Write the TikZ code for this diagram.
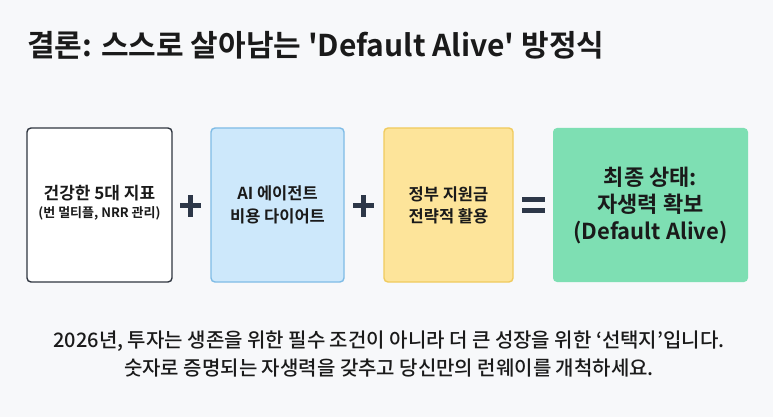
\documentclass[tikz,border=0pt]{standalone}
\usepackage{fontspec}
\setmainfont{Noto Sans CJK KR}[BoldFont={* Bold}]
\newfontfamily\krbold{Noto Sans CJK KR Bold}
\newfontfamily\krmed{Noto Sans CJK KR Medium}
\definecolor{bgc}{HTML}{F7F8FA}
\definecolor{ink}{HTML}{1A1A1A}
\definecolor{opc}{HTML}{2D3748}
\definecolor{b1line}{HTML}{2F3640}
\definecolor{b2fill}{HTML}{CDE8FB}
\definecolor{b2line}{HTML}{7FBCE6}
\definecolor{b3fill}{HTML}{FDE49A}
\definecolor{b3line}{HTML}{F0CB5E}
\definecolor{b4fill}{HTML}{7EDFB3}
\tikzset{
  card/.style={rounded corners=4pt, line width=1.4pt},
  label/.style={align=center, text=ink, inner sep=0pt},
}
\begin{document}
\begin{tikzpicture}[x=1pt,y=-1pt]
\fill[bgc] (0,0) rectangle (773,417);
\useasboundingbox (0,0) rectangle (773,417);
\node[anchor=base west, inner sep=0pt, text=ink, font=\krbold\fontsize{30}{34}\selectfont] (title) at (27,57) {결론: 스스로 살아남는 'Default Alive' 방정식};
% boxes
\draw[card, draw=b1line, fill=white] (27,128) rectangle (172,282);
\node[label, font=\krbold\fontsize{17}{21}\selectfont] (t1) at (99.5,203) {건강한 5대 지표\\[-3pt]{\fontsize{13}{15}\selectfont (번 멀티플, NRR 관리)}};
\draw[card, draw=b2line, fill=b2fill] (211,128) rectangle (344,282);
\node[label, font=\krbold\fontsize{16.5}{23}\selectfont] (t2) at (277.5,205) {AI 에이전트\\비용 다이어트};
\draw[card, draw=b3line, fill=b3fill] (384,128) rectangle (513,282);
\node[label, font=\krbold\fontsize{16.5}{22}\selectfont] (t3) at (448.5,205) {정부 지원금\\전략적 활용};
\fill[b4fill, rounded corners=4pt] (553,128) rectangle (748,282);
\node[label, font=\krbold\fontsize{22}{27}\selectfont] (t4) at (650.5,205) {최종 상태:\\자생력 확보\\(Default Alive)};
% operators
\fill[opc] (180,203) rectangle (201,208);
\fill[opc] (188,194.5) rectangle (193,216.5);
\fill[opc] (353,203) rectangle (374,208);
\fill[opc] (361,194.5) rectangle (366,216.5);
\fill[opc] (522,197) rectangle (545,202);
\fill[opc] (522,208) rectangle (545,213);
% footer
\node[label, font=\krmed\fontsize{20}{28}\selectfont] (foot) at (389,354) {2026년, 투자는 생존을 위한 필수 조건이 아니라 더 큰 성장을 위한 ‘선택지’입니다.\\숫자로 증명되는 자생력을 갖추고 당신만의 런웨이를 개척하세요.};
\end{tikzpicture}
\end{document}
